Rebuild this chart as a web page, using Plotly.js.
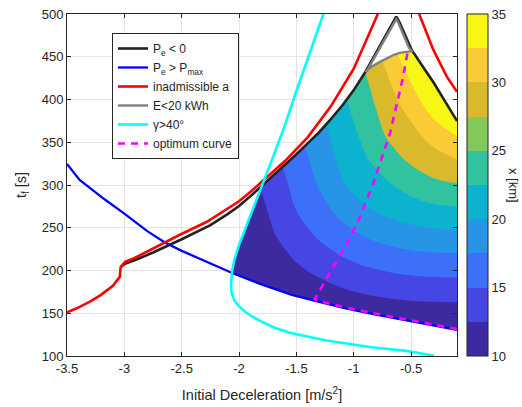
<!DOCTYPE html>
<html><head><meta charset="utf-8">
<script src="https://cdn.plot.ly/plotly-3.0.1.min.js"></script>
<style>html,body{margin:0;padding:0;background:#fff}#chart{width:522px;height:407px}</style>
</head><body><div id="chart"></div>
<script>
// ---- contour field x [km] over (initial deceleration, t_f) ----
const gridA = [-2.1,-1.9,-1.7,-1.5,-1.3,-1.1,-0.9,-0.7,-0.5,-0.3,-0.1];
const gridT = [120,150,180,210,240,270,300,330,360,390,420,450,480];
const distKm = [
  [7.0, 7.2, 7.6, 8.0, 8.2, 8.3, 8.45, 8.59, 8.73, 8.78, 8.79],
  [7.6, 7.95, 9.11, 10.01, 10.02, 10.42, 10.77, 11.06, 11.27, 11.36, 11.38],
  [8.2, 8.7, 10.18, 11.27, 11.82, 12.52, 13.1, 13.53, 13.8, 13.93, 13.97],
  [8.8, 9.45, 11.25, 12.53, 13.61, 14.62, 15.39, 15.96, 16.33, 16.51, 16.55],
  [9.4, 10.2, 12.32, 13.78, 15.3, 16.53, 17.58, 18.37, 18.92, 19.2, 19.26],
  [10.0, 10.95, 13.06, 15.02, 16.61, 18.25, 19.7, 20.56, 21.28, 21.82, 22.04],
  [10.6, 11.69, 13.72, 15.7, 17.72, 19.8, 21.06, 22.26, 23.48, 24.45, 24.81],
  [11.2, 12.44, 14.39, 16.37, 18.42, 20.57, 22.3, 23.99, 25.45, 26.51, 27.5],
  [11.8, 13.42, 15.09, 17.05, 19.12, 21.23, 23.13, 25.39, 26.79, 28.67, 30.28],
  [12.6, 14.42, 16.12, 17.87, 19.81, 21.89, 23.88, 26.32, 28.31, 31.09, 33.06],
  [13.6, 15.43, 17.16, 18.97, 20.79, 22.59, 24.64, 27.25, 30.04, 33.51, 35.83],
  [14.6, 16.47, 18.24, 20.07, 21.87, 23.71, 25.64, 28.36, 31.88, 35.93, 38.6],
  [15.6, 17.5, 19.34, 21.15, 22.97, 24.83, 26.89, 29.53, 33.75, 38.35, 41.4]
];

// ---- boundary curves ----
const blackA = [-3.03,-3.0,-2.9,-2.75,-2.5,-2.25,-2.1,-2.0,-1.9,-1.8,-1.7,-1.6,-1.5,-1.4,-1.3,-1.2,-1.1,-1.0,-0.9,-0.8,-0.7,-0.63,-0.6,-0.56,-0.495,-0.4,-0.3,-0.2,-0.1];
const blackT = [204,207.5,212.5,221,236.5,253,266,275.5,287,299,311,323,336,349,362,377,393,411,432,456,480,497,490,478,458,439,419,397,375];

const blueA = [-3.5,-3.39,-3.17,-3.0,-2.8,-2.65,-2.5,-2.34,-2.2,-2.05,-1.83,-1.54,-1.31,-1.08,-0.83,-0.54,-0.3,-0.1];
const blueT = [324.6,306,283,266.5,246,233,223,213.5,205,196.5,185,171.5,163.5,156,149,141.5,135.5,130.5];

const redA = [-3.5,-3.42,-3.3,-3.21,-3.1,-3.04,-3.032,-2.994,-2.92,-2.75,-2.52,-2.28,-2.1,-2.0,-1.9,-1.8,-1.6,-1.4,-1.2,-1.0,-0.9,-0.79,null,-0.43,-0.306,-0.19,-0.1];
const redT = [151,155.5,163.5,171,182,192.5,204,210,214,226,241.5,257,272,281,292,304,328,356,392,436,466,500,null,500,458,427,409];

const arcA = [-0.9,-0.85,-0.771,-0.7,-0.655,-0.6,-0.55,-0.495];
const arcT = [432.5,438,444,448.5,452,454.5,455.5,456.5];
const graySideA = [-0.52,-0.572,-0.61,-0.63,-0.688,-0.788,-0.888];
const graySideT = [461,478,489.5,494,480,456,432.8];

const cyanA = [-1.265,-1.31,-1.4,-1.5,-1.6,-1.7,-1.8,-1.9,-2.0,-2.04,-2.06,-2.07,-2.065,-2.04,-2.0,-1.95,-1.89,-1.8,-1.69,-1.55,-1.4,-1.25,-1.08,-0.83,-0.54,-0.3];
const cyanT = [500,482,448,410,370,334,299,265,230,213,200,185,174,165,158,152,146.5,140,133,127,122.5,118.5,115,110,106,100.3];

const optA = [-0.1,-0.3,-0.54,-0.83,-1.08,-1.25,-1.34,-1.26,-1.18,-1.076,-1.0,-0.945,-0.887,-0.83,-0.78,-0.728,-0.684,-0.64,-0.6,-0.568,-0.545,-0.53];
const optT = [131.5,136.5,142.5,150,157,162.5,166.5,185,204.5,228,247,263,282.5,302,322,341.5,360.5,386,408,427,445,456];

// ---- labels / ticks ----
const xTickVals = [-3.5,-3,-2.5,-2,-1.5,-1,-0.5];
const xTickText = ['-3.5','-3','-2.5','-2','-1.5','-1','-0.5'];
const cbTickVals = [10,15,20,25,30,35];
const cbTickText = ['10','15','20','25','30','35'];
const legendNames = ['P<sub>e</sub> &lt; 0','P<sub>e</sub> &gt; P<sub>max</sub>','inadmissible a','E&lt;20 kWh','\u03b3&gt;40\u00b0','optimum curve'];

// colours
const cbColors = ['#3e2aa0','#4646e4','#3d70f8','#2894e6','#0bb3cf','#31c3a0','#82c95a','#dab92d','#fbcb36','#f8f614'];
const plotBandColors = ['#3e2aa0','#4646e4','#3d70f8','#2894e6','#0bb3cf','#31c3a0','#dab92d','#fbcb36','#f8f614'];

const FONT = 'Liberation Sans, Arial, Helvetica, sans-serif';
const INK = '#262626';

function stepScale(colors, centred){
  const n = colors.length, out = [];
  for (let k=0;k<n;k++){
    let lo, hi;
    if (centred){ lo = Math.max(0,(k-0.5)/(n-1)); hi = Math.min(1,(k+0.5)/(n-1)); }
    else { lo = k/n; hi = (k+1)/n; }
    out.push([lo, colors[k]]); out.push([hi, colors[k]]);
  }
  return out;
}

const traces = [
  {type:'contour', x:gridA, y:gridT, z:distKm, autocontour:false,
   contours:{start:12.5, end:30, size:2.5, coloring:'fill', showlines:false},
   line:{width:0, smoothing:1}, connectgaps:true,
   colorscale: stepScale(plotBandColors, true), showscale:false, showlegend:false, hoverinfo:'skip'},
  {type:'scatter', x:[null], y:[null], mode:'markers', showlegend:false, hoverinfo:'skip',
   marker:{color:[10], cmin:10, cmax:35, colorscale: stepScale(cbColors,false), showscale:true,
     colorbar:{x:(467-67)/390, xanchor:'left', xpad:0, y:0.5, yanchor:'middle', ypad:0, len:1, lenmode:'fraction',
       thickness:21, thicknessmode:'pixels', outlinewidth:1, outlinecolor:INK,
       tickvals:cbTickVals, ticktext:cbTickText, ticks:'', ticklabelpad:4,
       tickfont:{family:FONT, size:13, color:INK}}}},
  {type:'scatter', mode:'lines', x:blackA, y:blackT, name:legendNames[0], line:{color:'#222222', width:2.6}},
  {type:'scatter', mode:'lines', x:blueA, y:blueT, name:legendNames[1], line:{color:'#0000ff', width:2.3}},
  {type:'scatter', mode:'lines', x:redA, y:redT, name:legendNames[2], line:{color:'#ff0000', width:2.6}, connectgaps:false},
  {type:'scatter', mode:'lines', x:arcA.concat(graySideA), y:arcT.concat(graySideT), name:legendNames[3], line:{color:'#808080', width:2.4}},
  {type:'scatter', mode:'lines', x:cyanA, y:cyanT, name:legendNames[4], line:{color:'#00ffff', width:2.6}},
  {type:'scatter', mode:'lines', x:optA, y:optT, name:legendNames[5], line:{color:'#ff00ff', width:2.6, dash:'7px,6px'}}
];

const axisCommon = {
  showline:true, linecolor:INK, linewidth:1, mirror:'ticks',
  ticks:'inside', ticklen:4, tickcolor:INK, tickwidth:1,
  showgrid:true, gridcolor:'#e4e4e4', gridwidth:1, zeroline:false,
  tickfont:{family:FONT, size:13, color:INK}
};

const layout = {
  width:522, height:407,
  margin:{l:67, r:65, t:14, b:51, pad:0},
  paper_bgcolor:'#ffffff', plot_bgcolor:'#ffffff',
  font:{family:FONT, color:INK},
  showlegend:true,
  xaxis: Object.assign({}, axisCommon, {range:[-3.5,-0.1], tickvals:xTickVals, ticktext:xTickText,
    title:{text:'Initial Deceleration [m/s<sup>2</sup>]', font:{family:FONT, size:14.5, color:INK}, standoff:15}}),
  yaxis: Object.assign({}, axisCommon, {range:[100,500], tick0:100, dtick:50,
    title:{text:'t<sub>f</sub> [s]', font:{family:FONT, size:14.5, color:INK}, standoff:11}}),
  legend:{x:(112-67)/390, y:(356-33)/342, xanchor:'left', yanchor:'top',
    bgcolor:'#ffffff', bordercolor:INK, borderwidth:1,
    font:{family:FONT, size:12, color:INK}, tracegroupgap:0},
  annotations:[{text:'x [km]', xref:'paper', yref:'paper', x:(514-67)/390, y:0.5,
    xanchor:'center', yanchor:'middle', textangle:90, showarrow:false,
    font:{family:FONT, size:13, color:INK}}]
};

function regionPolygon(){
  const poly = [];
  for (let i=0;i<blueA.length;i++) if (blueA[i] >= -2.06) poly.push([blueA[i], blueT[i]]);
  let peak = 0;
  for (let i=1;i<blackT.length;i++) if (blackT[i] > blackT[peak]) peak = i;
  const arcEnd = arcA[arcA.length-1];
  for (let i=blackA.length-1;i>peak;i--) if (blackA[i] >= arcEnd) poly.push([blackA[i], blackT[i]]);
  for (let i=arcA.length-1;i>=0;i--) poly.push([arcA[i], arcT[i]]);
  for (let i=peak;i>=0;i--) if (blackA[i] < arcA[0] && blackA[i] >= -1.8) poly.push([blackA[i], blackT[i]]);
  let minIdx = 0;
  for (let i=1;i<cyanA.length;i++) if (cyanA[i] < cyanA[minIdx]) minIdx = i;
  for (let i=0;i<minIdx;i++) if (cyanA[i] < -1.8 && cyanT[i] >= 198) poly.push([cyanA[i], cyanT[i]]);
  return poly;
}

Plotly.newPlot('chart', traces, layout, {staticPlot:true, displayModeBar:false}).then(function(gd){
  const xa = gd._fullLayout.xaxis, ya = gd._fullLayout.yaxis;
  const pts = regionPolygon();
  const d = pts.map(function(p,i){ return (i?'L':'M') + xa.l2p(p[0]).toFixed(2) + ',' + ya.l2p(p[1]).toFixed(2); }).join('') + 'Z';
  const NS = 'http://www.w3.org/2000/svg';
  const defs = gd.querySelector('svg.main-svg defs');
  const cp = document.createElementNS(NS, 'clipPath');
  cp.setAttribute('id', 'feasibleRegionClip');
  const path = document.createElementNS(NS, 'path');
  path.setAttribute('d', d);
  cp.appendChild(path);
  defs.appendChild(cp);
  gd.querySelectorAll('.contourlayer g.contour').forEach(function(g){
    g.setAttribute('clip-path', 'url(#feasibleRegionClip)');
  });
});
</script></body></html>
